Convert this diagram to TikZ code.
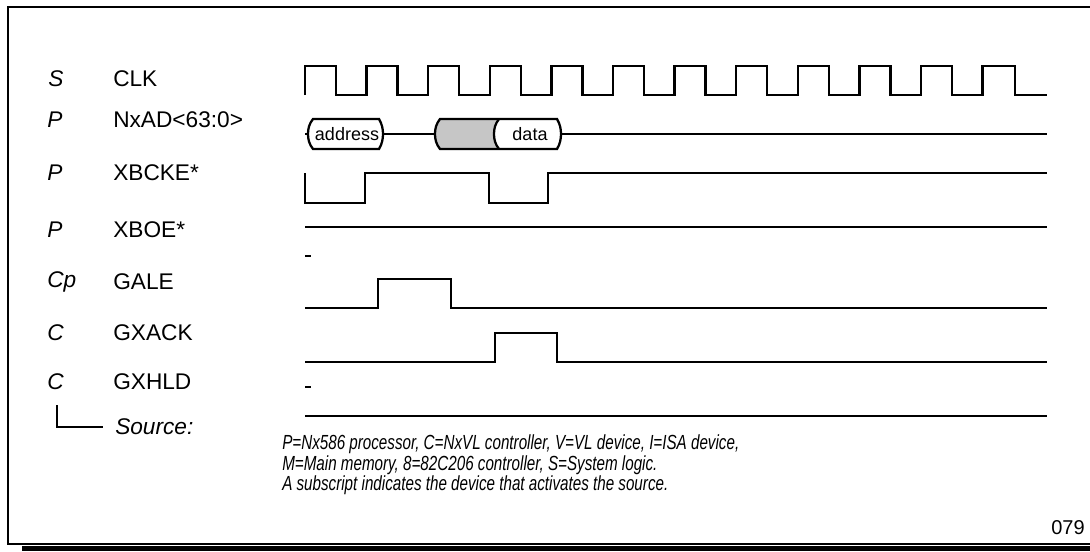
\documentclass[tikz,border=0pt]{standalone}
\usepackage{fontspec}
\setmainfont{Liberation Sans}
\newfontfamily\notefont[FakeStretch=0.745]{Liberation Sans}
\begin{document}
\begin{tikzpicture}[x=0.75pt,y=-0.75pt,
  wave/.style={line width=1.7pt,line join=miter},
  frameline/.style={line width=1.4pt},
  src/.style={anchor=west,font=\fontsize{17}{20}\selectfont\itshape,inner sep=0pt},
  sig/.style={anchor=west,font=\fontsize{17}{20}\selectfont,inner sep=0pt},
  buslabel/.style={font=\fontsize{13.5}{15}\selectfont,inner sep=0pt},
  note/.style={anchor=base west,font=\notefont\itshape\fontsize{15.3}{18}\selectfont,inner sep=0pt}]
\useasboundingbox (0,0) rectangle (1090,551);

% frame
\draw[frameline] (1090,7) -- (8,7) -- (8,544) -- (1090,544);
\fill (22,546) rectangle (1090,551);

% source / signal labels
\node[src] (sS)  at (48,79)  {S};
\node[sig] (nCLK) at (113,79) {CLK};
\node[src] (sP1) at (47,120) {P};
\node[sig] (nAD) at (113,120) {NxAD<63:0>};
\node[src] (sP2) at (47,173) {P};
\node[sig] (nBCKE) at (113,173) {XBCKE*};
\node[src] (sP3) at (47,230) {P};
\node[sig] (nBOE) at (113,230) {XBOE*};
\node[src] (sCp) at (47,282) {Cp};
\node[sig] (nGALE) at (113,282) {GALE};
\node[src] (sC1) at (47,333) {C};
\node[sig] (nGXACK) at (113,333) {GXACK};
\node[src] (sC2) at (47,382) {C};
\node[sig] (nGXHLD) at (113,382) {GXHLD};
\node[src] (nSource) at (115,427) {Source:};
\coordinate (srcEnd) at (103,427);
\draw[line width=1.2pt] (57,405) -- (57,427) -- (srcEnd);

% CLK: twelve periods of 61.6, high for 31
\draw[wave] (305,95)
  -- (305,66) -- (336,66) -- (336,95)
  -- (366.6,95) -- (366.6,66) -- (397.6,66) -- (397.6,95)
  -- (428.2,95) -- (428.2,66) -- (459.2,66) -- (459.2,95)
  -- (489.8,95) -- (489.8,66) -- (520.8,66) -- (520.8,95)
  -- (551.4,95) -- (551.4,66) -- (582.4,66) -- (582.4,95)
  -- (613,95) -- (613,66) -- (644,66) -- (644,95)
  -- (674.6,95) -- (674.6,66) -- (705.6,66) -- (705.6,95)
  -- (736.2,95) -- (736.2,66) -- (767.2,66) -- (767.2,95)
  -- (797.8,95) -- (797.8,66) -- (828.8,66) -- (828.8,95)
  -- (859.4,95) -- (859.4,66) -- (890.4,66) -- (890.4,95)
  -- (921,95) -- (921,66) -- (952,66) -- (952,95)
  -- (982.6,95) -- (982.6,66) -- (1015,66) -- (1015,95)
  -- (1047,95);

% NxAD<63:0>
\draw[wave] (305,134) -- (308,134);
\draw[wave] (313,119) -- (379,119) .. controls (382,124) and (383,129) .. (383,134)
  .. controls (383,139) and (382,144) .. (379,149) -- (313,149)
  .. controls (309,144) and (308,139) .. (308,134)
  .. controls (308,129) and (309,124) .. (313,119) -- cycle;
\node[buslabel] (tAddr) at (347,134) {address};
\draw[wave] (383,134) -- (435,134);
\fill[gray!45] (440,119) -- (499,119) .. controls (495,124) and (494,129) .. (494,134)
  .. controls (494,139) and (495,144) .. (499,149) -- (440,149)
  .. controls (436,144) and (435,139) .. (435,134)
  .. controls (435,129) and (436,124) .. (440,119) -- cycle;
\draw[wave] (440,119) -- (557,119) .. controls (560,124) and (561,129) .. (561,134)
  .. controls (561,139) and (560,144) .. (557,149) -- (440,149)
  .. controls (436,144) and (435,139) .. (435,134)
  .. controls (435,129) and (436,124) .. (440,119) -- cycle;
\draw[wave] (499,119) .. controls (495,124) and (494,129) .. (494,134)
  .. controls (494,139) and (495,144) .. (499,149);
\node[buslabel] (tData) at (530,134) {data};
\draw[wave] (561,134) -- (1047,134);

% XBCKE*
\draw[wave] (305,173) -- (305,203) -- (365,203) -- (365,173) -- (489,173)
  -- (489,203) -- (548,203) -- (548,173) -- (1047,173);

% XBOE*
\draw[wave] (305,227) -- (1047,227);
\draw[wave] (305,256) -- (311,256);

% GALE
\draw[wave] (305,308) -- (378,308) -- (378,279) -- (451,279) -- (451,308) -- (1047,308);

% GXACK
\draw[wave] (305,362) -- (495,362) -- (495,333) -- (557,333) -- (557,362) -- (1047,362);

% GXHLD
\draw[wave] (305,387) -- (311,387);
\draw[wave] (305,416) -- (1047,416);

% legend
\node[note] (legend1) at (282,449) {P=Nx586 processor, C=NxVL controller, V=VL device, I=ISA device,};
\node[note] (legend2) at (282,470) {M=Main memory, 8=82C206 controller, S=System logic.};
\node[note] (legend3) at (282,490) {A subscript indicates the device that activates the source.};
\node[anchor=east,font=\fontsize{15}{18}\selectfont,inner sep=0pt] (fig) at (1085,528) {079};
\end{tikzpicture}
\end{document}
